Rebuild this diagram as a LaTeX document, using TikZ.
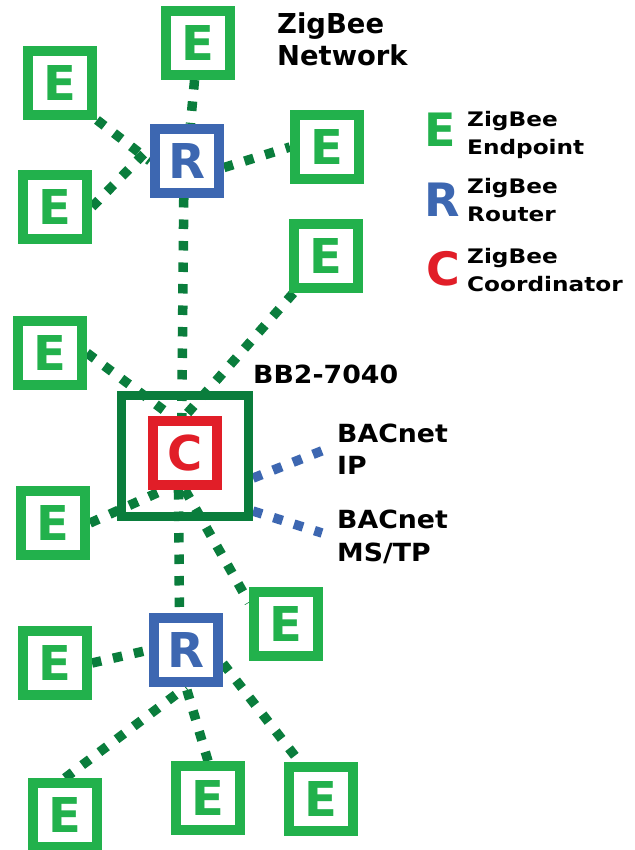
\documentclass[tikz,border=0pt]{standalone}
\usepackage{fontspec}
\setmainfont{DejaVu Sans}
\newfontfamily\legendfont{DejaVu Sans}[FakeStretch=1.16]
\newfontfamily\notefont{DejaVu Sans}[FakeStretch=1.07]
\usetikzlibrary{backgrounds}

\definecolor{endgreen}{RGB}{34,177,76}
\definecolor{linkgreen}{RGB}{10,125,60}
\definecolor{routerblue}{RGB}{61,103,177}
\definecolor{coordred}{RGB}{225,30,40}

\tikzset{
    zbox/.style={draw, line width=10pt, fill=white, minimum size=64pt, inner sep=0pt,
        font=\fontsize{48}{48}\selectfont\bfseries},
    endpoint/.style={zbox, draw=endgreen, text=endgreen},
    router/.style={zbox, draw=routerblue, text=routerblue},
    coordinator/.style={zbox, draw=coordred, text=coordred},
    link/.style={linkgreen, line width=9.5pt, dash pattern=on 9.5pt off 12pt},
    bacnet/.style={link, routerblue},
    notetext/.style={anchor=north west, inner sep=0pt, align=left},
    legendletter/.style={inner sep=0pt, font=\fontsize{46}{46}\selectfont\bfseries},
}

\begin{document}
\begin{tikzpicture}[x=1pt, y=-1pt]
    \useasboundingbox (0,0) rectangle (634,850);

    % upper router and its endpoints
    \node[endpoint] (e1) at (198,43) {E};
    \node[endpoint] (e2) at (60,83) {E};
    \node[endpoint] (e3) at (55,207) {E};
    \node[router] (r1) at (187,161) {R};
    \node[endpoint] (e4) at (327,147) {E};

    % the BB2-7040 with its coordinator
    \node[endpoint] (e5) at (326,256) {E};
    \node[endpoint] (e6) at (50,353) {E};
    \node[draw=linkgreen, line width=9pt, minimum width=127pt, minimum height=121pt] (bb) at (185,456) {};
    \node[coordinator] (c) at (185,453) {C};
    \node[endpoint] (e7) at (53,523) {E};
    \node[endpoint] (e8) at (286,624) {E};

    % lower router and its endpoints
    \node[router] (r2) at (186,650) {R};
    \node[endpoint] (e9) at (55,663) {E};
    \node[endpoint] (e10) at (65,815) {E};
    \node[endpoint] (e11) at (208,798) {E};
    \node[endpoint] (e12) at (321,799) {E};

    \coordinate (ip) at (324,450);
    \coordinate (mstp) at (322,533);

    % texts
    \node[notetext, font=\fontsize{27.4}{32}\selectfont\bfseries] (net) at (277,12) {ZigBee\\Network};
    \node[notetext, font=\notefont\bfseries\fontsize{25}{32}\selectfont] (bbname) at (253,365) {BB2-7040};
    \node[notetext, font=\notefont\bfseries\fontsize{25}{32}\selectfont] (bip) at (337,424) {BACnet\\IP};
    \node[notetext, font=\notefont\bfseries\fontsize{25}{33}\selectfont] (bms) at (337,510) {BACnet\\MS/TP};

    % legend
    \node[legendletter, text=endgreen] (le) at (440,130) {E};
    \node[legendletter, text=routerblue] (lr) at (442,200) {R};
    \node[legendletter, text=coordred] (lc) at (443,269) {C};
    \node[notetext, font=\legendfont\bfseries\fontsize{20}{28}\selectfont] (te) at (467,111) {ZigBee\\Endpoint};
    \node[notetext, font=\legendfont\bfseries\fontsize{20}{28}\selectfont] (tr) at (467,178) {ZigBee\\Router};
    \node[notetext, font=\legendfont\bfseries\fontsize{20}{28}\selectfont] (tc) at (467,248) {ZigBee\\Coordinator};

    \begin{scope}[on background layer]
        \fill[white] (0,0) rectangle (634,850);
        \path[link]
            (e1) edge (r1)
            (e2.south east) edge (r1.west)
            (e3.east) edge (r1.160)
            (r1.-10) edge (e4.west)
            (r1.-95) edge (c.95)

            (e5) edge (c.north)
            (e6.east) edge (c.110)
            (e7.east) edge (c.-120)
            (c.south) edge (e8.150)
            (c.-100) edge (r2.100)

            (e9.east) edge (r2.west)
            (e10.north) edge (r2.south)
            (e11.north) edge (r2.south)
            (r2.-20) edge (e12.120)
            ;
        \path[bacnet]
            (bb.-18) edge (ip)
            (bb.-39) edge (mstp)
            ;
    \end{scope}
\end{tikzpicture}
\end{document}
